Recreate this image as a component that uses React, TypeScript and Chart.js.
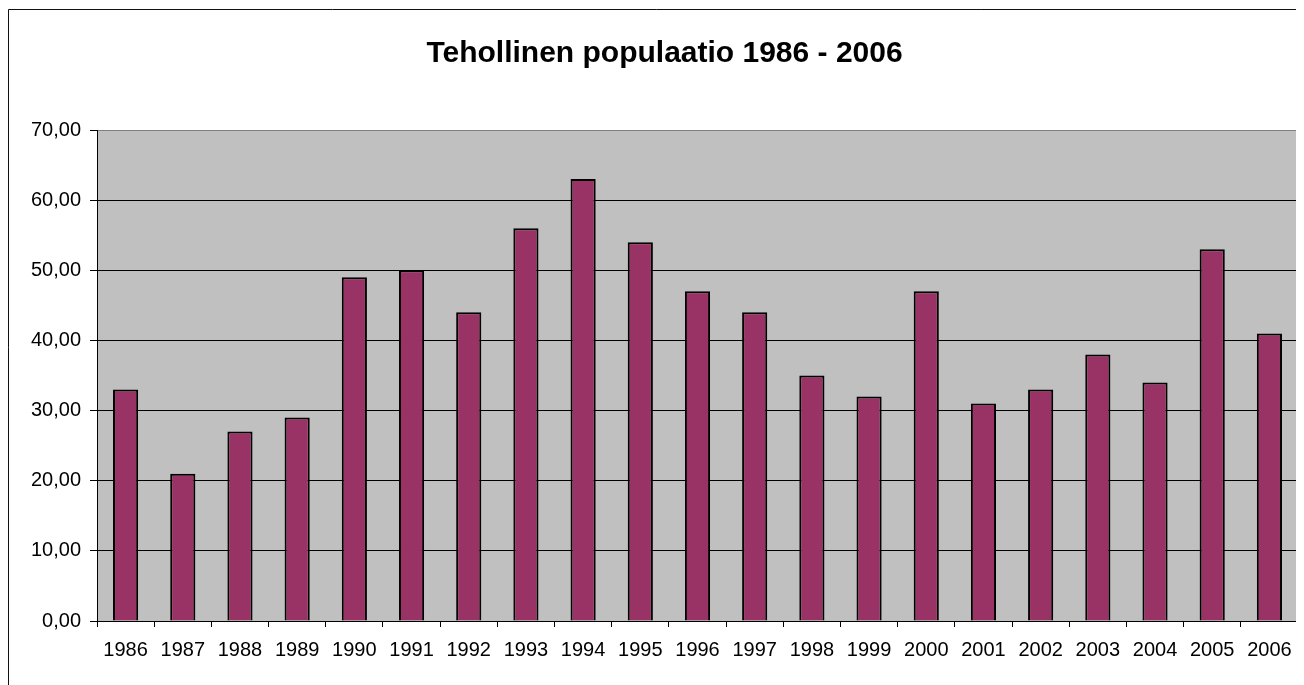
import React, { useEffect, useRef } from "react";
import { Chart, registerables } from "chart.js";

Chart.register(...registerables);

const TITLE = "Tehollinen populaatio 1986 - 2006";
const years = ["1986","1987","1988","1989","1990","1991","1992","1993","1994","1995","1996","1997","1998","1999","2000","2001","2002","2003","2004","2005","2006"];
const values = [33, 21, 27, 29, 49, 50, 44, 56, 63, 54, 47, 44, 35, 32, 47, 31, 33, 38, 34, 53, 41];
const yTickValues = [0, 10, 20, 30, 40, 50, 60, 70];
const yTickLabels = ["0,00", "10,00", "20,00", "30,00", "40,00", "50,00", "60,00", "70,00"];

const W = 1296;
const H = 677;
const FONT = "'Liberation Sans', Arial, sans-serif";

export default function App() {
  const ref = useRef<HTMLCanvasElement | null>(null);

  useEffect(() => {
    if (!ref.current) return;
    const framePlugin = {
      id: "frame",
      beforeDraw(chart: any) {
        const { ctx, chartArea: a } = chart;
        ctx.save();
        ctx.fillStyle = "#ffffff";
        ctx.fillRect(0, 0, chart.width, chart.height);
        ctx.fillStyle = "#C0C0C0";
        ctx.fillRect(a.left, a.top, a.right - a.left, a.bottom - a.top);
        ctx.restore();
      },
      afterDraw(chart: any) {
        const { ctx, chartArea: a } = chart;
        ctx.save();
        ctx.strokeStyle = "#808080";
        ctx.lineWidth = 1.5;
        ctx.beginPath();
        ctx.moveTo(Math.round(a.right) + 0.5, a.top);
        ctx.lineTo(Math.round(a.right) + 0.5, a.bottom);
        ctx.stroke();
        ctx.strokeStyle = "#111";
        ctx.lineWidth = 1;
        ctx.beginPath();
        ctx.moveTo(0.5, 1.5);
        ctx.lineTo(chart.width, 1.5);
        ctx.moveTo(0.5, 1.5);
        ctx.lineTo(0.5, chart.height);
        ctx.stroke();
        ctx.restore();
      },
    };

    const chart = new Chart(ref.current, {
      type: "bar",
      data: {
        labels: years,
        datasets: [
          {
            data: values,
            backgroundColor: "#993366",
            borderColor: "#000000",
            borderWidth: 2,
            barPercentage: 0.44,
            categoryPercentage: 1,
          },
        ],
      },
      options: {
        responsive: false,
        animation: false,
        devicePixelRatio: 1,
        layout: { padding: { left: 23, right: 6, top: 0, bottom: 0 } },
        plugins: {
          legend: { display: false },
          tooltip: { enabled: false },
          title: {
            display: true,
            text: TITLE,
            color: "#000",
            font: { family: FONT, size: 30, weight: "bold" },
            padding: { top: 28, bottom: 58 },
          },
        },
        scales: {
          x: {
            grid: {
              display: true,
              offset: true,
              drawOnChartArea: false,
              drawTicks: true,
              tickLength: 6,
              color: "#000",
              tickColor: "#000",
            },
            border: { display: true, color: "#000", width: 1 },
            ticks: {
              color: "#000",
              font: { family: FONT, size: 20 },
              padding: 11,
              maxRotation: 0,
              autoSkip: false,
            },
            afterFit(scale: any) {
              scale.height = 64;
            },
          },
          y: {
            min: 0,
            max: 70,
            afterBuildTicks(scale: any) {
              scale.ticks = yTickValues.map((v) => ({ value: v }));
            },
            grid: {
              color: (c: any) => (c.tick && c.tick.value === 70 ? "#808080" : "#000"),
              tickColor: "#000",
              tickLength: 7,
              lineWidth: 1,
            },
            border: { display: true, color: "#000", width: 1 },
            ticks: {
              color: "#000",
              font: { family: FONT, size: 20 },
              padding: 9,
              callback: (v: any) => {
                const i = yTickValues.indexOf(Number(v));
                return i >= 0 ? yTickLabels[i] : "";
              },
            },
            afterFit(scale: any) {
              scale.width = 66;
            },
          },
        },
      },
      plugins: [framePlugin],
    } as any);
    return () => chart.destroy();
  }, []);

  return <canvas ref={ref} width={W} height={H} style={{ display: "block", width: W, height: H }} />;
}
